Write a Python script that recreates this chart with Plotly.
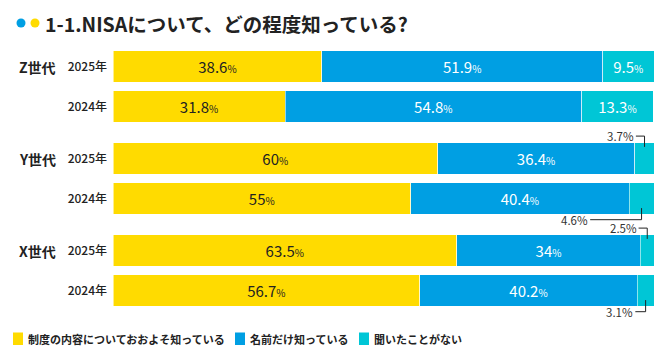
import plotly.graph_objects as go

# ---- data ----
generations = ["Z世代", "Y世代", "X世代"]
years = ["2025年", "2024年", "2025年", "2024年", "2025年", "2024年"]
series_names = ["制度の内容についておおよそ知っている", "名前だけ知っている", "聞いたことがない"]
know_detail = [38.6, 31.8, 60, 55, 63.5, 56.7]
know_name = [51.9, 54.8, 36.4, 40.4, 34, 40.2]
never_heard = [9.5, 13.3, 3.7, 4.6, 2.5, 3.1]
title_text = "1-1.NISAについて、どの程度知っている?"

colors = ["#FFDB00", "#009FE3", "#00C6D6"]
text_colors = ["#222222", "#FFFFFF", "#FFFFFF"]

# row positions (gap between generations)
ypos = [0, 1, 2.3, 3.3, 4.6, 5.6]

W, H = 670, 364
ML, MR, MT, MB = 113, 16, 40, 39
PW, PH = W - ML - MR, H - MT - MB
ROW0, ROWPX = 66.5, 40.0


def px(x):
    return (x - ML) / PW


def py(y):
    return (H - MB - y) / PH


def fmt(v):
    return ("%g" % v) + "<span style='font-size:10px'>%</span>"


fig = go.Figure()
for i, (name, vals) in enumerate(zip(series_names, [know_detail, know_name, never_heard])):
    texts = [fmt(v) if v >= 9 else "" for v in vals]
    fig.add_trace(go.Bar(
        x=vals, y=ypos, orientation="h", name=name,
        marker=dict(color=colors[i], line=dict(color="rgba(255,255,255,0.55)", width=1)),
        width=0.78,
        text=texts, textposition="inside", insidetextanchor="middle",
        textfont=dict(color=text_colors[i], size=15, family="Noto Sans CJK JP", weight=400),
        textangle=0, hoverinfo="skip", showlegend=False,
    ))

annotations = []
shapes = []

# group labels
for g, yy in zip(generations, [ypos[0], ypos[2], ypos[4]]):
    annotations.append(dict(x=px(17), xref="paper", y=yy, yref="y", text="<b>%s</b>" % g,
                            showarrow=False, xanchor="left", yanchor="middle",
                            font=dict(size=14, color="#222", family="Noto Sans CJK JP")))

# small-value callouts with leader lines
callouts = [(2, -1), (3, 1), (4, -1), (5, 1)]
for idx, side in callouts:
    start = know_detail[idx] + know_name[idx]
    mid = start + never_heard[idx] / 2
    yb = ypos[idx]
    if side < 0:
        y_label = yb - 0.56
        y_end = yb - 0.29
        lab_x = mid - 1.6
    else:
        y_label = yb + 0.53
        y_end = yb + 0.24
        lab_x = mid - (9.5 if idx == 3 else 1.9)
    shapes.append(dict(type="line", xref="x", yref="y", x0=lab_x, x1=mid, y0=y_label, y1=y_label,
                       line=dict(color="#222", width=1)))
    shapes.append(dict(type="line", xref="x", yref="y", x0=mid, x1=mid, y0=y_label, y1=y_end,
                       line=dict(color="#222", width=1)))
    annotations.append(dict(x=lab_x, xref="x", y=y_label, yref="y", text="%g%%" % never_heard[idx],
                            showarrow=False, xanchor="right", yanchor="middle", xshift=0,
                            font=dict(size=11.5, color="#333", family="Noto Sans CJK JP")))

# title
shapes.append(dict(type="circle", xref="paper", yref="paper", x0=px(16.5), x1=px(25.5), y0=py(27.5), y1=py(18.5),
                   fillcolor="#009FE3", line=dict(width=0)))
shapes.append(dict(type="circle", xref="paper", yref="paper", x0=px(30.5), x1=px(39.5), y0=py(27.5), y1=py(18.5),
                   fillcolor="#FFDB00", line=dict(width=0)))
annotations.append(dict(x=px(43), xref="paper", y=py(23), yref="paper", text="<b>%s</b>" % title_text,
                        showarrow=False, xanchor="left", yanchor="middle",
                        font=dict(size=19.5, color="#222", family="Noto Sans CJK JP")))

# legend (manual)
leg_x = [13, 235, 359]
for i, name in enumerate(series_names):
    shapes.append(dict(type="rect", xref="paper", yref="paper", x0=px(leg_x[i]), x1=px(leg_x[i] + 10),
                       y0=py(345), y1=py(332.5), fillcolor=colors[i], line=dict(width=0)))
    annotations.append(dict(x=px(leg_x[i] + 13), xref="paper", y=py(339), yref="paper", text="<b>%s</b>" % name,
                            showarrow=False, xanchor="left", yanchor="middle",
                            font=dict(size=11, color="#222", family="Noto Sans CJK JP")))

fig.update_layout(
    barmode="stack", width=W, height=H,
    margin=dict(l=ML, r=MR, t=MT, b=MB, autoexpand=False),
    paper_bgcolor="white", plot_bgcolor="white",
    xaxis=dict(range=[0, 100], visible=False, fixedrange=True, automargin=False),
    yaxis=dict(range=[(H - MB - ROW0) / ROWPX, (MT - ROW0) / ROWPX], tickvals=ypos, ticktext=years,
               showgrid=False, zeroline=False, showline=False, ticks="", ticklabelstandoff=5,
               automargin=False, fixedrange=True,
               tickfont=dict(size=12, color="#222", family="Noto Sans CJK JP", weight=500)),
    annotations=annotations, shapes=shapes,
    font=dict(family="Noto Sans CJK JP"),
    uniformtext=dict(mode="show", minsize=8),
)
fig.write_html("out.html", config={"displayModeBar": False},
               post_script="document.body.style.margin='0';")
